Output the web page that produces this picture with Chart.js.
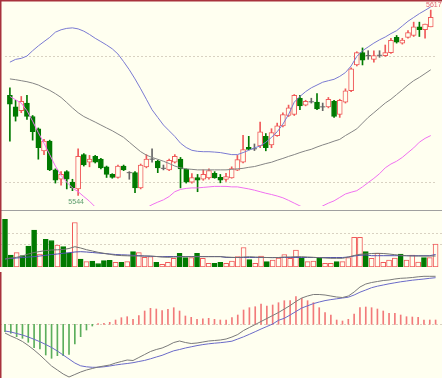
<!DOCTYPE html>
<html>
<head>
<meta charset="utf-8">
<script src="https://cdn.jsdelivr.net/npm/chart.js@4.4.1/dist/chart.umd.min.js"></script>
<style>
  html, body { margin: 0; padding: 0; background: #fffff0; }
  #wrap { position: relative; width: 442px; height: 378px; overflow: hidden; background: #fffff0; }
  #wrap canvas { position: absolute; left: 0; }
</style>
</head>
<body>
<div id="wrap">
  <canvas id="cMain" width="442" height="211" style="top:0"></canvas>
  <canvas id="cVol" width="442" height="56" style="top:211px"></canvas>
  <canvas id="cMacd" width="442" height="111" style="top:267px"></canvas>
</div>
<script>
// ── Dados ─────────────────────────────────────────────────────
const OPEN = [
  5583.4, 5578.9, 5577.4, 5580.4, 5575.1, 5570.3, 5561.6, 5565.4, 5554.1, 5550.4,
  5553.4, 5549.3, 5546.6, 5560.1, 5557.1, 5559.4, 5558.3, 5555.3, 5552.3, 5551.1,
  5555.6, 5553.0, 5553.0, 5547.0, 5555.3, 5558.3, 5557.5, 5554.7, 5554.1, 5557.1,
  5558.3, 5554.3, 5549.3, 5551.1, 5550.4, 5550.9, 5552.7, 5551.2, 5550.3, 5550.9,
  5554.0, 5557.1, 5563.0, 5562.4, 5563.5, 5567.3, 5563.9, 5567.6, 5571.4, 5575.5,
  5575.9, 5582.3, 5579.6, 5580.9, 5580.75, 5578.9, 5578.9, 5581.1, 5575.9, 5580.75,
  5585.25, 5595.4, 5600.25, 5599.1, 5597.6, 5599.2, 5599.1, 5600.25, 5606.25, 5604.0,
  5606.25, 5607.0, 5610.4, 5609.25, 5610.4,
];
const HIGH = [
  5586.4, 5581.5, 5583.0, 5583.4, 5575.5, 5570.6, 5566.1, 5565.8, 5554.5, 5553.4,
  5553.8, 5550.4, 5562.4, 5560.5, 5559.8, 5559.8, 5558.6, 5555.6, 5552.6, 5556.0,
  5556.0, 5553.4, 5553.4, 5556.4, 5560.1, 5562.4, 5557.9, 5556.0, 5558.3, 5560.1,
  5559.0, 5554.5, 5552.6, 5552.3, 5554.1, 5554.5, 5553.4, 5552.3, 5552.7, 5555.3,
  5559.8, 5567.7, 5567.3, 5564.3, 5572.9, 5568.4, 5570.3, 5572.5, 5576.6, 5579.6,
  5583.75, 5583.4, 5581.5, 5582.3, 5584.1, 5580.4, 5582.6, 5581.5, 5581.9, 5586.0,
  5594.25, 5600.6, 5602.1, 5601.0, 5601.0, 5601.0, 5603.25, 5605.9, 5607.0, 5605.9,
  5608.9, 5612.25, 5612.25, 5611.5, 5617.0,
];
const LOW = [
  5565.4, 5573.3, 5576.6, 5574.0, 5565.8, 5558.3, 5560.1, 5553.8, 5548.9, 5548.1,
  5546.6, 5545.9, 5544.0, 5555.6, 5555.3, 5556.8, 5554.5, 5551.1, 5550.8, 5550.8,
  5553.8, 5550.4, 5545.1, 5546.6, 5554.9, 5557.1, 5553.0, 5554.1, 5553.8, 5556.8,
  5547.0, 5548.9, 5548.9, 5545.5, 5550.0, 5550.4, 5550.8, 5549.0, 5549.6, 5550.8,
  5553.8, 5556.8, 5562.0, 5561.7, 5562.8, 5561.6, 5562.8, 5567.3, 5571.0, 5575.1,
  5575.5, 5577.8, 5579.3, 5580.4, 5577.8, 5577.4, 5578.5, 5574.75, 5574.75, 5580.4,
  5584.9, 5595.0, 5595.4, 5597.6, 5596.5, 5598.4, 5598.75, 5599.9, 5604.0, 5603.6,
  5605.9, 5606.6, 5606.6, 5605.9, 5610.4,
];
const CLOSE = [
  5580.0, 5575.1, 5581.1, 5575.1, 5569.1, 5562.8, 5565.4, 5554.1, 5550.0, 5552.3,
  5550.4, 5547.0, 5559.4, 5556.0, 5558.3, 5557.1, 5554.9, 5552.3, 5551.1, 5555.6,
  5554.1, 5553.0, 5547.0, 5556.0, 5558.3, 5558.3, 5554.9, 5554.7, 5557.9, 5559.4,
  5554.5, 5549.3, 5551.1, 5550.0, 5552.3, 5553.8, 5550.9, 5550.0, 5551.5, 5554.6,
  5558.1, 5562.1, 5562.1, 5562.4, 5569.1, 5562.8, 5568.8, 5571.4, 5575.9, 5578.5,
  5583.4, 5579.3, 5581.1, 5580.9, 5578.1, 5578.9, 5581.9, 5575.1, 5581.5, 5585.25,
  5593.9, 5600.25, 5597.25, 5599.1, 5599.1, 5599.2, 5600.25, 5605.1, 5604.4, 5605.2,
  5608.1, 5610.4, 5609.25, 5611.5, 5614.1,
];

// Faixas (superior / média / inferior)
const BAND_UP = [
  5596.5, 5597.6, 5598.0, 5598.9, 5601.0, 5602.9, 5604.6, 5606.25, 5608.3, 5609.25,
  5609.8, 5610.0, 5609.6, 5608.7, 5607.4, 5605.9, 5604.6, 5603.25, 5601.75, 5599.7,
  5596.7, 5593.5, 5589.9, 5586.0, 5581.9, 5577.75, 5574.75, 5571.75, 5569.5, 5567.25,
  5564.6, 5562.9, 5561.8, 5561.4, 5561.25, 5561.25, 5561.1, 5560.9, 5560.5, 5560.1,
  5560.1, 5560.9, 5561.8, 5562.75, 5563.5, 5565.0, 5566.9, 5569.1, 5572.1, 5575.9,
  5580.75, 5583.0, 5584.9, 5586.4, 5587.5, 5588.6, 5589.2, 5589.75, 5590.9, 5592.4,
  5595.0, 5598.75, 5601.0, 5602.5, 5604.0, 5605.3, 5606.4, 5607.75, 5608.9, 5610.75,
  5612.6, 5614.1, 5615.6, 5616.9, 5618.25,
];
const BAND_MID = [
  5589.9, 5589.6, 5589.2, 5588.8, 5588.25, 5587.5, 5586.4, 5585.4, 5584.1, 5582.6,
  5580.6, 5578.5, 5576.6, 5575.1, 5574.0, 5572.9, 5571.75, 5570.6, 5569.5, 5568.2,
  5566.9, 5565.0, 5563.1, 5561.25, 5559.9, 5559.0, 5558.25, 5557.5, 5556.6, 5555.6,
  5554.9, 5554.5, 5554.3, 5554.1, 5554.1, 5554.1, 5554.1, 5554.1, 5554.1, 5554.3,
  5554.5, 5554.7, 5555.1, 5555.4, 5556.0, 5556.6, 5557.1, 5557.9, 5558.6, 5559.4,
  5560.1, 5560.9, 5561.6, 5562.2, 5563.1, 5563.9, 5564.6, 5565.4, 5566.1, 5567.6,
  5568.9, 5570.25, 5572.5, 5574.75, 5576.6, 5578.5, 5580.4, 5581.9, 5583.75, 5585.6,
  5587.5, 5589.2, 5590.5, 5592.0, 5593.5,
];
const BAND_LOW = [
  5583.0, 5581.7, 5580.4, 5577.4, 5573.25, 5568.75, 5564.6, 5560.1, 5555.6, 5551.9,
  5549.25, 5547.0, 5545.5, 5543.6, 5541.75, 5539.5, 5537.6, 5536.1, 5535.0, 5534.6,
  5534.6, 5535.4, 5536.5, 5537.6, 5539.1, 5540.4, 5541.4, 5542.3, 5543.6, 5545.5,
  5546.4, 5546.8, 5547.0, 5547.0, 5547.2, 5547.4, 5547.6, 5547.6, 5547.6, 5547.4,
  5547.4, 5547.0, 5546.6, 5546.1, 5545.5, 5544.9, 5544.4, 5543.8, 5543.1, 5542.1,
  5541.0, 5539.9, 5538.75, 5538.0, 5538.4, 5539.9, 5541.0, 5541.9, 5543.25, 5544.6,
  5545.3, 5545.9, 5547.4, 5549.1, 5550.75, 5552.6, 5554.9, 5556.4, 5557.5, 5559.0,
  5560.9, 5562.75, 5565.0, 5566.5, 5567.6,
];

// Volume e médias do volume
const VOLUME = [
  47.7, 12, 14.3, 11.3, 21, 37, 13, 27.7, 26.5, 22,
  20.3, 13.7, 44.5, 8, 5.3, 6, 3.5, 6.3, 6.7, 4.7,
  4.7, 5.3, 15.3, 14.3, 9.7, 10.3, 4.7, 2.7, 4.7, 8.7,
  13.7, 9.3, 9.3, 13.7, 8.7, 3.7, 3.7, 4.7, 3.7, 6,
  10.5, 19.5, 7.3, 3.7, 11, 5.3, 7, 9, 12.5, 8.7,
  17, 8.7, 5.3, 6, 8.7, 3.7, 3.7, 5.3, 5.3, 9.3,
  29.7, 29.7, 15.3, 8.7, 13.7, 4.7, 7, 9, 13, 7,
  12, 5, 9.3, 9.3, 23,
];
const VOL_MA1 = [
  8, 9, 9.7, 11, 13, 14.5, 15.5, 16.5, 17, 17.2,
  17.5, 18.5, 20.3, 19, 17.3, 16, 14.7, 13.7, 12.7, 11.8,
  11.4, 11.2, 11, 11, 11, 11, 10.5, 10, 9.7, 10,
  10.2, 10.3, 10.3, 10.3, 10.3, 10.3, 10.3, 10.3, 10, 9.7,
  9.5, 10, 10.3, 10, 9.7, 9.5, 9.3, 9.5, 10, 10,
  10.3, 10.3, 10, 9.7, 9.3, 9, 8.7, 8.7, 8.7, 10,
  11.5, 12.7, 13, 13.5, 13.7, 13.5, 13, 12.3, 11.7, 11.3,
  11, 11, 11, 11, 11,
];
const VOL_MA2 = [
  8, 8.5, 9, 9.5, 10, 10.3, 11, 11.7, 12.5, 13,
  13.7, 14.3, 15, 15.3, 15, 14.5, 14, 13.5, 13, 12.5,
  12.2, 12, 11.7, 11.4, 11, 10.7, 10.5, 10.3, 10.5, 10.5,
  10.5, 10.5, 10.5, 10.5, 10.5, 10.5, 10.5, 10.5, 9.5, 9.5,
  9.5, 9.5, 9.5, 9.5, 9.5, 9.5, 9.5, 9.5, 9.5, 9.5,
  9.5, 9.5, 9.5, 9.5, 9.5, 9.5, 9.5, 9.5, 9.5, 10,
  11, 11.7, 12, 11.3, 11.3, 11.3, 11.3, 11.3, 11.3, 11.3,
  11.3, 11.3, 11.3, 11.3, 12.5,
];

// MACD
const DIF = [
  -0.87, -1.17, -1.42, -1.72, -2.12, -2.57, -3.07, -3.62, -4.17, -4.57,
  -4.97, -5.27, -5.02, -4.77, -4.57, -4.42, -4.27, -4.17, -4.07, -3.87,
  -3.72, -3.57, -3.62, -3.32, -3.02, -2.72, -2.52, -2.37, -2.12, -1.82,
  -1.67, -1.82, -1.92, -1.87, -1.77, -1.67, -1.62, -1.57, -1.47, -1.27,
  -1.02, -0.62, -0.32, -0.02, 0.28, 0.58, 0.88, 1.18, 1.53, 1.88,
  2.28, 2.63, 2.83, 2.98, 2.98, 2.93, 2.83, 2.73, 2.68, 2.83,
  3.23, 3.73, 4.03, 4.18, 4.28, 4.38, 4.43, 4.53, 4.60, 4.63,
  4.68, 4.75, 4.80, 4.80, 4.80,
];
const DEA = [
  -0.67, -0.77, -0.92, -1.07, -1.27, -1.50, -1.74, -2.02, -2.32, -2.67,
  -3.07, -3.47, -3.87, -4.15, -4.25, -4.30, -4.30, -4.25, -4.17, -4.07,
  -3.99, -3.92, -3.84, -3.72, -3.61, -3.45, -3.27, -3.10, -2.87, -2.65,
  -2.52, -2.37, -2.25, -2.13, -2.03, -1.95, -1.89, -1.84, -1.77, -1.69,
  -1.47, -1.25, -1.00, -0.74, -0.47, -0.22, 0.03, 0.40, 0.60, 0.93,
  1.28, 1.63, 1.85, 2.07, 2.23, 2.37, 2.47, 2.55, 2.63, 2.71,
  2.93, 3.21, 3.43, 3.66, 3.81, 3.93, 4.05, 4.15, 4.25, 4.33,
  4.41, 4.47, 4.53, 4.60, 4.66,
];
const MACD_BAR = [
  -0.74, -0.90, -1.24, -1.40, -1.80, -2.34, -2.47, -3.07, -3.40, -3.14,
  -3.14, -3.00, -1.97, -1.24, -0.57, -0.17, 0.06, 0.10, 0.20, 0.43,
  0.66, 0.76, 0.50, 0.86, 1.33, 1.60, 1.53, 1.36, 1.50, 1.66,
  1.33, 0.83, 0.70, 0.50, 0.54, 0.60, 0.50, 0.43, 0.43, 0.66,
  0.93, 1.43, 1.66, 1.76, 2.03, 1.83, 1.93, 2.16, 2.36, 2.36,
  2.76, 2.60, 2.36, 2.16, 1.66, 1.16, 0.93, 0.43, 0.33, 0.50,
  1.03, 1.66, 1.73, 1.66, 1.53, 1.33, 1.10, 1.10, 0.93, 0.76,
  0.73, 0.70, 0.43, 0.43, 0.43,
];

// Linhas de grade tracejadas
const MAIN_GRID = [5599, 5549.25];
const VOL_GRID = [23, 34.5];
const MACD_GRID = [0];

// ── Cores ─────────────────────────────────────────────────────
const BG = "#fffff0";
const UP = "#f05a5a";
const DOWN = "#007a00";
const DOJI = "#666666";
const C_UP = "#7a7ad2";
const C_MID = "#858585";
const C_LOW = "#f070f0";
const GRID = "#d9d2c2";
const FRAME = "#a8323c";
const SEP = "#a0a0a0";
const HIST_UP = "#f27a7a";
const HIST_DOWN = "#5cae5c";

const X_MIN = -0.86;
const X_MAX = 75.1;
const idx = OPEN.map((_, i) => i);
const isUp = (i) => CLOSE[i] > OPEN[i];
const isDoji = (i) => CLOSE[i] === OPEN[i];

// ── Plugin do painel: grade, moldura, rótulos ─────────────────
function panelPlugin(gridVals, frame) {
  return {
    id: "panel",
    beforeDatasetsDraw(chart) {
      const { ctx, chartArea: a, scales } = chart;
      ctx.save();
      ctx.strokeStyle = GRID;
      ctx.lineWidth = 1;
      ctx.setLineDash([2, 2]);
      gridVals.forEach((v) => {
        const py = Math.round(scales.y.getPixelForValue(v)) + 0.5;
        ctx.beginPath();
        ctx.moveTo(a.left, py);
        ctx.lineTo(a.right, py);
        ctx.stroke();
      });
      ctx.restore();
    },
    afterDraw(chart) {
      if (frame) frame(chart);
    },
  };
}

function lineDs(values, color, order) {
  return {
    type: "line",
    data: idx.map((i) => ({ x: i, y: values[i] })),
    borderColor: color,
    borderWidth: 1,
    pointRadius: 0,
    tension: 0,
    order,
  };
}

function baseOptions(yMin, yMax) {
  return {
    responsive: false,
    animation: false,
    events: [],
    layout: { padding: 0 },
    plugins: { legend: { display: false }, tooltip: { enabled: false } },
    scales: {
      x: { type: "linear", min: X_MIN, max: X_MAX, offset: false, display: false },
      y: { type: "linear", min: yMin, max: yMax, display: false },
    },
  };
}

// ── Painel principal (velas + faixas) ─────────────────────────
const bodyIdx = idx.filter((i) => !isDoji(i));
const dojiIdx = idx.filter((i) => isDoji(i));
const candleColor = (i) => (isDoji(i) ? DOJI : isUp(i) ? UP : DOWN);

new Chart(document.getElementById("cMain"), {
  type: "bar",
  data: {
    datasets: [
      lineDs(BAND_UP, C_UP, 0),
      lineDs(BAND_MID, C_MID, 0),
      lineDs(BAND_LOW, C_LOW, 0),
      {
        type: "scatter",
        data: dojiIdx.map((i) => ({ x: i, y: OPEN[i] })),
        pointStyle: "line",
        pointRadius: 2.6,
        pointBorderWidth: 1,
        pointBorderColor: DOJI,
        order: 1,
      },
      {
        data: bodyIdx.map((i) => ({ x: i, y: [OPEN[i], CLOSE[i]] })),
        backgroundColor: bodyIdx.map((i) => (isUp(i) ? BG : DOWN)),
        borderColor: bodyIdx.map((i) => (isUp(i) ? UP : DOWN)),
        borderWidth: 1,
        borderSkipped: false,
        barThickness: 5,
        grouped: false,
        order: 2,
      },
      {
        data: idx.map((i) => ({ x: i, y: [LOW[i], HIGH[i]] })),
        backgroundColor: idx.map(candleColor),
        barThickness: 1,
        grouped: false,
        order: 3,
      },
    ],
  },
  options: baseOptions(5539.875, 5619),
  plugins: [
    panelPlugin(MAIN_GRID, (chart) => {
      const { ctx, scales } = chart;
      ctx.save();
      ctx.fillStyle = SEP;
      ctx.fillRect(0, 210, 442, 1);
      ctx.fillStyle = FRAME;
      ctx.fillRect(0, 0, 442, 1.5);
      ctx.fillRect(0, 0, 1.5, 211);
      // máxima e mínima
      const hi = Math.max(...HIGH);
      const lo = Math.min(...LOW);
      const iLo = LOW.indexOf(lo);
      ctx.font = '7px "Liberation Sans Narrow", "Liberation Sans", sans-serif';
      ctx.textBaseline = "top";
      ctx.fillStyle = "#e06070";
      ctx.textAlign = "left";
      ctx.fillText(String(Math.round(hi)), 426, 1.5);
      ctx.fillStyle = "#5c9c6c";
      ctx.textAlign = "center";
      ctx.fillText(
        String(Math.round(lo)),
        scales.x.getPixelForValue(iLo) - 2,
        scales.y.getPixelForValue(lo) + 3
      );
      ctx.restore();
    }),
  ],
});

// ── Volume ────────────────────────────────────────────────────
new Chart(document.getElementById("cVol"), {
  type: "bar",
  data: {
    datasets: [
      lineDs(VOL_MA1, "#707070", 0),
      lineDs(VOL_MA2, "#5050b0", 0),
      {
        data: idx.map((i) => ({ x: i, y: VOLUME[i] })),
        backgroundColor: idx.map((i) => (CLOSE[i] >= OPEN[i] ? BG : DOWN)),
        borderColor: idx.map((i) => (CLOSE[i] >= OPEN[i] ? UP : DOWN)),
        borderWidth: 1,
        borderSkipped: false,
        barThickness: 5,
        grouped: false,
        order: 2,
      },
    ],
  },
  options: baseOptions(0, 56),
  plugins: [
    panelPlugin(VOL_GRID, (chart) => {
      const { ctx } = chart;
      ctx.save();
      ctx.fillStyle = FRAME;
      ctx.fillRect(0, 0, 1.5, 56);
      ctx.restore();
    }),
  ],
});

// ── MACD ──────────────────────────────────────────────────────
new Chart(document.getElementById("cMacd"), {
  type: "bar",
  data: {
    datasets: [
      lineDs(DIF, "#7a7a7a", 0),
      lineDs(DEA, "#6a6ac8", 0),
      {
        data: idx.map((i) => ({ x: i, y: MACD_BAR[i] })),
        backgroundColor: idx.map((i) => (MACD_BAR[i] >= 0 ? HIST_UP : HIST_DOWN)),
        barThickness: 1,
        grouped: false,
        order: 2,
      },
    ],
  },
  options: baseOptions(-5.37, 5.73),
  plugins: [
    panelPlugin(MACD_GRID, (chart) => {
      const { ctx } = chart;
      ctx.save();
      ctx.fillStyle = FRAME;
      ctx.fillRect(0, 5, 1.5, 111);
      ctx.restore();
    }),
  ],
});
</script>
</body>
</html>
